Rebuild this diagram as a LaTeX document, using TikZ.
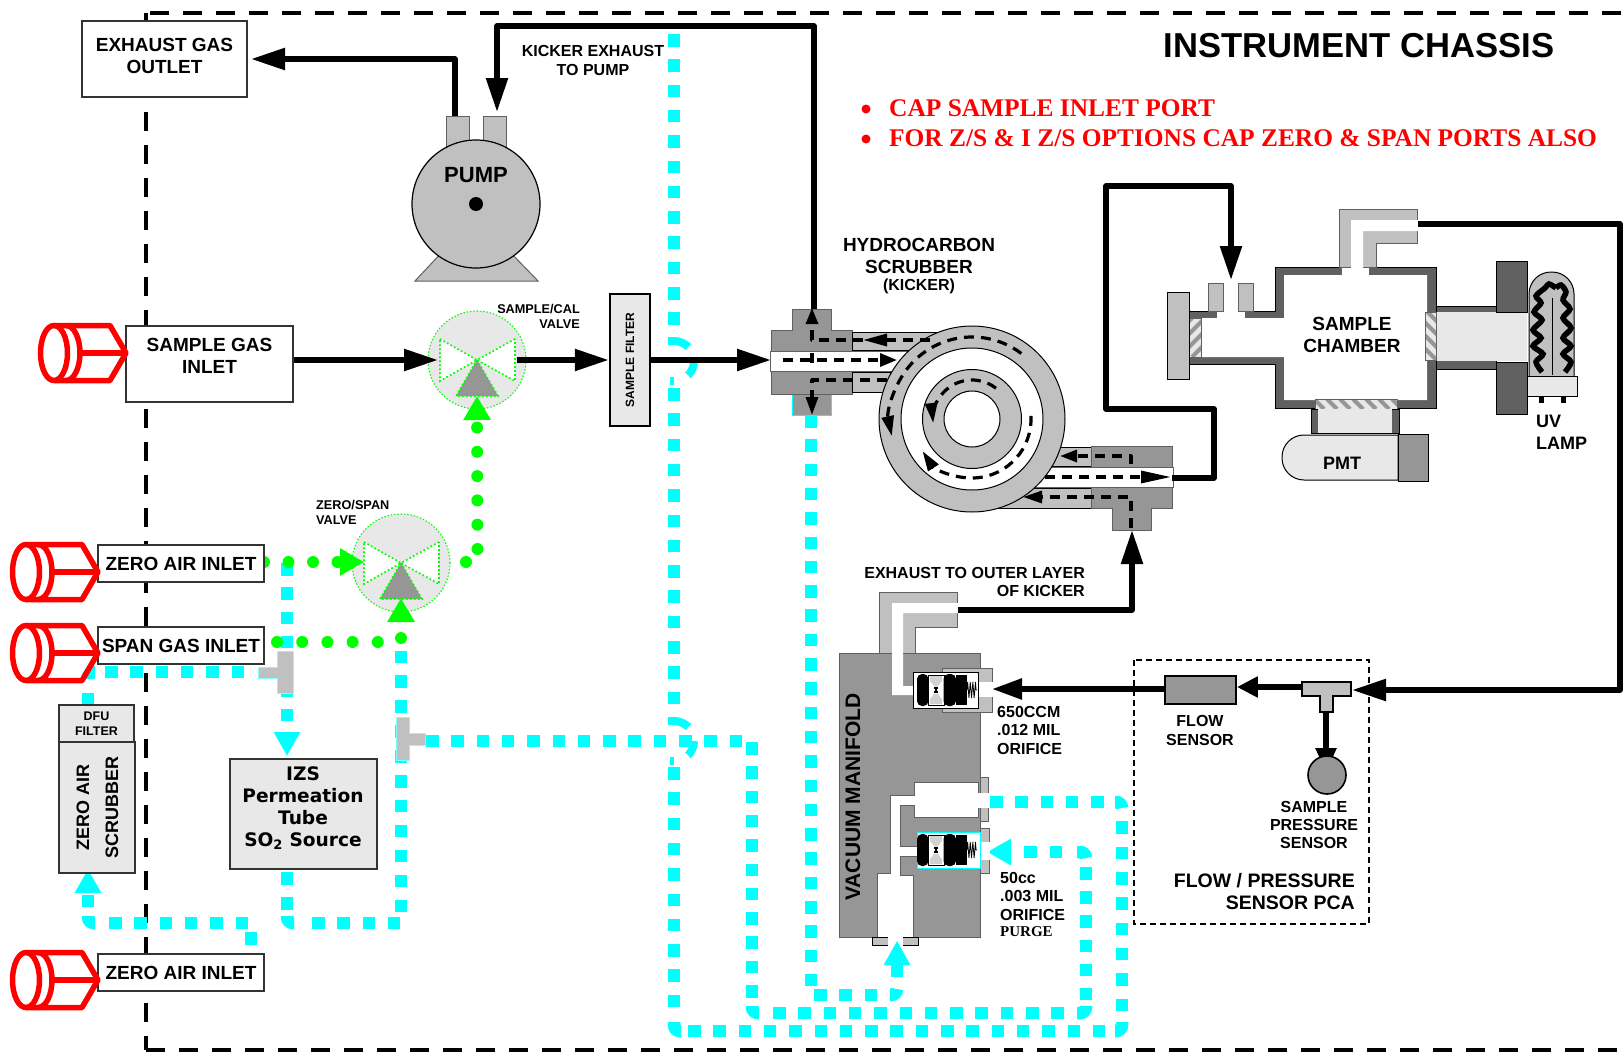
\documentclass[tikz,border=0pt]{standalone}
\usepackage{fontspec}
\setmainfont{Liberation Sans}
\newfontfamily\timesfam{Liberation Serif}
\newfontfamily\widefam{DejaVu Sans}
\usetikzlibrary{arrows.meta, positioning, calc, decorations.pathmorphing}
\definecolor{pipegray}{HTML}{C0C0C0}
\definecolor{blockgray}{HTML}{969696}
\definecolor{wallgray}{HTML}{606060}
\definecolor{panelgray}{HTML}{E8E8E8}
\definecolor{zeroflow}{HTML}{00FFFF}
\definecolor{spanflow}{HTML}{00FF00}
\definecolor{capred}{HTML}{FF0000}

\tikzset{
  biglabel/.style={font=\bfseries\fontsize{19}{22}\selectfont, align=center, inner sep=0pt, yshift=-1pt},
  midlabel/.style={font=\bfseries\fontsize{16}{18.5}\selectfont, align=center, inner sep=0pt},
  smalllabel/.style={font=\bfseries\fontsize{12.7}{15}\selectfont, align=center, inner sep=0pt},
  redlabel/.style={font=\timesfam\bfseries\fontsize{25.4}{27}\selectfont, text=capred, inner sep=0pt},
  reddot/.style={circle, fill=capred, minimum size=9pt, inner sep=0pt},
  gasbox/.style={draw=black!80, line width=1.3pt, fill=white, inner sep=0pt},
  panelbox/.style={draw=black!80, line width=1.3pt, fill=panelgray, inner sep=0pt},
  chassis/.style={line width=4.7pt, dash pattern=on 19pt off 14pt},
  blackflow/.style={line width=5.5pt, line join=round, -{Triangle[length=34pt, width=21pt]}},
  kickdash/.style={line width=3.2pt, dash pattern=on 10pt off 7pt, line join=round},
  kicktip/.style={-{Triangle[length=20pt, width=12pt]}},
  cyanflow/.style={zeroflow, line width=12.5pt, dash pattern=on 12.5pt off 12.8pt},
  cyanclose/.style={zeroflow, line width=12.5pt, dash pattern=on 12.5pt off 11.8pt},
  cyantip/.style={-{Triangle[length=24pt, width=25pt]}},
  cyanbend/.style={zeroflow, line width=12.5pt, rounded corners=6pt},
  cyanhop/.style={zeroflow, line width=8pt, dash pattern=on 21.7pt off 15.7pt on 15.7pt off 15.7pt on 4pt},
  greendots/.style={spanflow, line width=12pt, line cap=round},
  greentip/.style={-{Triangle[length=24pt, width=26pt]}},
  pipefit/.style={draw=wallgray, line width=1pt, fill=pipegray},
  blockfit/.style={draw=wallgray, line width=1pt, fill=blockgray},
  wallfit/.style={draw=black, line width=1pt, fill=wallgray},
  hatchline/.style={blockgray, line width=4pt},
  redcan/.style={capred, line width=5.5pt, line join=round},
  valvedot/.style={draw=spanflow, line width=1.7pt, dash pattern=on 1.7pt off 2.3pt},
}

% Hatched quartz window: x1, y1, x2, y2, slope
\newcommand{\hatchwin}[5]{%
  \begin{scope}
    \clip (#1,#2) rectangle (#3,#4);
    \fill[panelgray] (#1,#2) rectangle (#3,#4);
    \foreach \hx in {-120,-107,...,120}
      \draw[hatchline] ({(#1+#3)/2+\hx},#2) -- ++({#5*(#4-#2)},{#4-#2});
  \end{scope}
  \draw[wallgray, line width=.8pt] (#1,#2) rectangle (#3,#4);
}

% Critical flow orifice: y, outline colour, left, right
\newcommand{\orificeset}[4]{%
  \begin{scope}[shift={(913,#1)}]
    \filldraw[fill=white, draw=#2, line width=.9pt] (#3,-18) rectangle (#4,18);
    \filldraw[fill=white, draw=black, line width=1pt] (15,-15) rectangle (31,15);
    \fill[black, rounded corners=5pt] (4,-16) rectangle (15.5,16);
    \fill[black, rounded corners=5pt] (30.5,-16) rectangle (43,16);
    \fill[panelgray!90!black] (17,-14) -- (29,-14) -- (29,-9) -- (24.5,-3.5) -- (21.5,-3.5) -- (17,-9) -- cycle;
    \fill[panelgray!90!black] (17,14) -- (29,14) -- (29,9) -- (24.5,3.5) -- (21.5,3.5) -- (17,9) -- cycle;
    \draw[black, line width=1.2pt] (21,-2) -- (25,-2) (21,2) -- (25,2) (23,-2) -- (23,2);
    \fill[black] (43,-15) rectangle (54,15);
    \draw[black, line width=.8pt, decorate, decoration={zigzag, segment length=2.6pt, amplitude=8pt}] (54,0) -- (64,0);
  \end{scope}
}

\begin{document}
\begin{tikzpicture}[x=1pt, y=-1pt]

\useasboundingbox (0,0) rectangle (1623,1052);
\fill[white] (0,0) rectangle (1623,1052);

% Chassis outline
\draw[chassis] (146,13) -- (146,1050);
\draw[chassis] (150,13) -- (1623,13);
\draw[chassis, line width=4pt] (146,1050) -- (1623,1050);

\node[font=\bfseries\fontsize{34.6}{38}\selectfont, inner sep=0pt] (chassistitle) at (1359,45.5) {INSTRUMENT CHASSIS};
\node[reddot] (bulleta) at (866,109) {};
\node[reddot] (bulletb) at (866,139) {};
\node[redlabel, anchor=west] (capa) at (889,108) {CAP SAMPLE INLET PORT};
\node[redlabel, anchor=west] (capb) at (889,138) {FOR Z/S \& I Z/S OPTIONS CAP ZERO \& SPAN PORTS ALSO};

% Cyan bypass down past the filter
\coordinate (bytop) at (674,34);
\coordinate (bya) at (674,331);
\coordinate (byb) at (674,388);
\coordinate (byc) at (674,708);
\coordinate (byd) at (674,767);
\coordinate (bye) at (674,1015);
\draw[cyanflow] (bytop) -- (bya);
\draw[cyanflow] (byb) -- (byc);
\draw[cyanflow] (byd) -- (bye);
\draw[cyanhop] (668,341) -- (674,341) arc[start angle=-90, end angle=90, radius=20] -- (670,381);
\draw[cyanhop] (668,721) -- (674,721) arc[start angle=-90, end angle=90, radius=20] -- (670,761);

% Cyan outer loop to the manifold
\coordinate (outla) at (688,1031);
\coordinate (outlb) at (1112,1031);
\coordinate (outlc) at (1122,1011);
\coordinate (outld) at (1122,820);
\coordinate (outle) at (990,802);
\coordinate (outlf) at (1112,802);
\draw[cyanflow] (outla) -- (outlb);
\draw[cyanflow] (outlc) -- (outld);
\draw[cyanflow] (outle) -- (outlf);

% Cyan inner loop to the purge orifice
\coordinate (purgein) at (987,852);
\coordinate (purgea) at (1062,852);
\coordinate (purgeb) at (1086,867);
\coordinate (purgec) at (1086,1000);
\coordinate (purged) at (773,1013);
\coordinate (purgee) at (1066,1013);
\coordinate (purgef) at (752,742);
\coordinate (purgeg) at (752,1000);
\coordinate (izsa) at (426,741);
\coordinate (izsb) at (743,741);
\draw[cyanflow, cyantip] (purgea) -- (purgein);
\draw[cyanclose, dash pattern=on 12.5pt off 11.7pt] (purgeb) -- (purgec);
\draw[cyanflow] (purged) -- (purgee);
\draw[cyanclose] (purgef) -- (purgeg);
\draw[cyanflow] (izsa) -- (izsb);

% Cyan line from the kicker to the manifold foot
\coordinate (kickout) at (811,415);
\coordinate (kickoutb) at (811,987);
\coordinate (kickoutc) at (814,995);
\coordinate (kickoutd) at (886,995);
\coordinate (footstart) at (897,977);
\coordinate (footin) at (897,941);
\draw[cyanclose] (kickout) -- (kickoutb);
\draw[cyanflow] (kickoutc) -- (kickoutd);
\draw[cyanflow, cyantip] (footstart) -- (footin);

% Cyan lines on the left side
\coordinate (feeda) at (287,563);
\coordinate (feedb) at (287,756);
\coordinate (feedc) at (105,672);
\coordinate (feedd) at (245,672);
\coordinate (dfua) at (88,693);
\coordinate (dfub) at (88,705);
\coordinate (scruba) at (88,907);
\coordinate (scrubb) at (88,869);
\coordinate (scrubc) at (109,923);
\coordinate (scrubd) at (248,923);
\coordinate (scrube) at (251,932);
\coordinate (scrubf) at (251,945);
\coordinate (srca) at (287,872);
\coordinate (srcb) at (287,910);
\coordinate (srcc) at (312,923);
\coordinate (srcd) at (400,923);
\coordinate (srce) at (401,912);
\coordinate (srcf) at (401,647);
\draw[cyanclose, cyantip] (feeda) -- (feedb);
\draw[cyanflow] (feedc) -- (feedd);
\draw[cyanflow] (dfua) -- (dfub);
\draw[cyanflow, cyantip] (scruba) -- (scrubb);
\draw[cyanflow] (scrubc) -- (scrubd);
\draw[cyanflow] (scrube) -- (scrubf);
\draw[cyanflow] (srca) -- (srcb);
\draw[cyanflow] (srcc) -- (srcd);
\draw[cyanflow, dash pattern=on 12.5pt off 12.4pt] (srce) -- (srcf);

% Cyan corners
\foreach \cx/\cy/\ax/\ay/\bx/\by in {88/672/0/7/7/0, 88/923/0/-7/7/0, 287/923/0/-7/7/0,
    674/1031/0/-9/7/0, 1122/1031/0/-9/-7/0, 752/1013/0/-7/7/0, 1086/1013/0/-7/-9/0,
    1086/852/-9/0/0/6, 1122/802/-7/0/0/6, 897/995/-7/0/0/-6}
  \draw[cyanbend] (\cx+\ax,\cy+\ay) -- (\cx,\cy) -- (\cx+\bx,\cy+\by);

% Tee fittings
\fill[pipegray, draw=zeroflow!50, line width=.8pt] (277,651) -- (293,651) -- (293,693) -- (277,693) -- (277,678) -- (258,678) -- (258,667) -- (277,667) -- cycle;
\fill[pipegray, draw=zeroflow!50, line width=.8pt] (396,717) -- (409,717) -- (409,733) -- (425,733) -- (425,745) -- (409,745) -- (409,760) -- (396,760) -- cycle;

% Pump
\node[pipefit, minimum width=23pt, minimum height=34pt, inner sep=0pt] (pumpporta) at (457.5,133.5) {};
\node[pipefit, minimum width=23pt, minimum height=34pt, inner sep=0pt] (pumpportb) at (495,133.5) {};
\filldraw[fill=pipegray, draw=wallgray, line width=1pt] (444,250) -- (415,281) -- (538,281) -- (508,250) -- cycle;
\node[circle, draw=black, line width=1.2pt, fill=pipegray, minimum size=128pt, inner sep=0pt] (pump) at (476,204) {};
\fill[black] (pump.center) circle[radius=7];
\node[font=\bfseries\fontsize{22}{24}\selectfont, inner sep=0pt] (pumplbl) at (476,175) {PUMP};

% Valves
\foreach \vname/\vx/\vy in {calvalve/477/360, spanvalve/401/563} {
  \node[circle, fill=panelgray, draw=spanflow, line width=1.1pt, dash pattern=on 1.5pt off 1.8pt, minimum size=98pt, inner sep=0pt] (\vname) at (\vx,\vy) {};
  \filldraw[valvedot, fill=white] (\vx-37,\vy-21) -- (\vx,\vy) -- (\vx-37,\vy+21) -- cycle;
  \filldraw[valvedot, fill=white] (\vx+38,\vy-21) -- (\vx,\vy) -- (\vx+38,\vy+21) -- cycle;
  \filldraw[valvedot, fill=blockgray] (\vx,\vy) -- (\vx+21,\vy+36) -- (\vx-21,\vy+36) -- cycle;
}
\node[smalllabel, align=right, anchor=east] (callbl) at (580,316.5) {SAMPLE/CAL\\VALVE};
\node[smalllabel, align=left, anchor=west] (spanlbl) at (316,512.5) {ZERO/SPAN\\VALVE};

% Green flows
\coordinate (zeroout) at (264,562);
\coordinate (spanvalvein) at (364,562);
\coordinate (spanvalvefoot) at (401,598);
\coordinate (calfoot) at (477,396);
\coordinate (dotout) at (466,562);
\coordinate (dotriser) at (477.5,549);
\coordinate (dotspan) at (401,638);
\coordinate (dotlast) at (378,642);
\coordinate (dotfirst) at (277,642);
\draw[greendots, dash pattern=on 0pt off 24.5pt, greentip] (zeroout) -- (spanvalvein);
\draw[greendots, dash pattern=on 0pt off 24.3pt, greentip] (dotriser) -- (calfoot);
\draw[greendots, dash pattern=on 0pt off 25.2pt] (dotfirst) -- (dotlast);
\draw[greendots, dash pattern=on 0pt off 100pt, greentip] (dotspan) -- (spanvalvefoot);
\fill[spanflow] (dotout) circle[radius=6];

% Boxes
\node[gasbox, minimum width=165pt, minimum height=76pt] (exhaustout) at (164.5,59) {};
\node[biglabel] (exhaustlbl) at (164.5,54.5) {EXHAUST GAS\\OUTLET};
\node[gasbox, minimum width=167pt, minimum height=76pt] (samplegas) at (209.5,364) {};
\node[biglabel] (samplegaslbl) at (209.5,355) {SAMPLE GAS\\INLET};
\node[gasbox, biglabel, draw=black!80, minimum width=166pt, minimum height=37pt] (zeroair) at (181,562.5) {ZERO AIR INLET};
\node[gasbox, biglabel, draw=black!80, minimum width=166pt, minimum height=37pt] (spangas) at (181,644.5) {SPAN GAS INLET};
\node[gasbox, biglabel, draw=black!80, minimum width=166pt, minimum height=37pt] (zeroairb) at (181,971.5) {ZERO AIR INLET};
\node[panelbox, draw=black!80, minimum width=75pt, minimum height=37pt, font=\bfseries\fontsize{12.5}{14.5}\selectfont, align=center] (dfufilter) at (96.5,723.5) {DFU\\FILTER};
\node[panelbox, minimum width=76pt, minimum height=131pt] (scrubber) at (97,807.5) {};
\node[font=\bfseries\fontsize{18}{29}\selectfont, align=center, inner sep=0pt, rotate=90] (scrubberlbl) at (97.5,807) {ZERO AIR\\SCRUBBER};
\node[panelbox, minimum width=147pt, minimum height=110pt] (izsbox) at (303.5,814) {};
\node[font=\widefam\bfseries\fontsize{18.6}{22}\selectfont, align=center, inner sep=0pt] (izslbl) at (303,808) {IZS\\Permeation\\Tube\\SO\textsubscript{2} Source};
\node[panelbox, draw=black, line width=2.5pt, minimum width=40pt, minimum height=132pt] (filter) at (630,360) {};
\node[font=\bfseries\fontsize{12}{14}\selectfont, inner sep=0pt, rotate=90] (filterlbl) at (630,360) {SAMPLE FILTER};

% Kicker, left block
\coordinate (ringc) at (972,419);
\filldraw[blockfit] (792,309) -- (831,309) -- (831,330) -- (852,330) -- (852,394) -- (771,394) -- (771,330) -- (792,330) -- cycle;
\filldraw[fill=blockgray, draw=zeroflow, line width=1pt] (792,394) rectangle (831,415);
\draw[wallgray, line width=1pt] (771,394) -- (852,394);
\filldraw[fill=pipegray, draw=black, line width=1pt] (852,332) rectangle (955,350);
\filldraw[fill=pipegray, draw=black, line width=1pt] (852,372) rectangle (890,392);
\filldraw[fill=white, draw=wallgray, line width=.8pt] (770,351) rectangle (920,371);

% Kicker, right block
\filldraw[fill=pipegray, draw=black, line width=1pt] (1040,447) rectangle (1091,466);
\filldraw[fill=pipegray, draw=black, line width=1pt] (972,488) rectangle (1091,508);
\filldraw[blockfit] (1091,446) -- (1172,446) -- (1172,508) -- (1151,508) -- (1151,530) -- (1112,530) -- (1112,508) -- (1091,508) -- cycle;
\filldraw[fill=white, draw=wallgray, line width=.8pt] (1030,467) rectangle (1173,487);

% Kicker rings
\filldraw[fill=pipegray, draw=black, line width=1pt] (ringc) circle[radius=93];
\filldraw[fill=white, draw=black, line width=1pt] (ringc) circle[radius=71];
\filldraw[fill=pipegray, draw=black, line width=1pt] (ringc) circle[radius=49.5];
\filldraw[fill=white, draw=black, line width=1pt] (ringc) circle[radius=28];

% Kicker flow marks
\draw[black, kickdash, kicktip] (ringc) ++(-53:82) arc[start angle=-53, end angle=-192, radius=82];
\draw[black, kickdash, kicktip] (ringc) ++(-3:59) arc[start angle=-3, end angle=147, radius=59];
\draw[black, kickdash, kicktip] (ringc) ++(-52:39) arc[start angle=-52, end angle=-186, radius=39];
\draw[black, kickdash, -{Triangle[length=17pt, width=13pt]}] (783,360) -- (897,360);
\draw[black, kickdash, -{Triangle[length=24pt, width=12pt]}] (930,340) -- (863,340);
\draw[black, kickdash, -{Triangle[length=16pt, width=12pt]}] (863,340) -- (812,340) -- (812,308);
\draw[black, kickdash] (812,353) -- (812,367);
\draw[black, kickdash, -{Triangle[length=18pt, width=12pt]}] (887,380) -- (812,380) -- (812,415);
\draw[black, kickdash, -{Triangle[length=30pt, width=12pt]}] (1045,477) -- (1171,477);
\draw[black, kickdash, -{Triangle[length=17pt, width=12pt]}] (1131,464) -- (1131,456) -- (1060,456);
\draw[black, kickdash, -{Triangle[length=19pt, width=12pt]}] (1131,528) -- (1131,497) -- (1023,497);

\node[biglabel] (hclbl) at (919,255) {HYDROCARBON\\SCRUBBER};
\node[midlabel] (kickerlbl) at (919,286.5) {(KICKER)};

% Sample chamber
\filldraw[wallfit] (1189,311) -- (1275,311) -- (1275,267) -- (1436,267) -- (1436,408) -- (1275,408) -- (1275,364) -- (1189,364) -- cycle;
\fill[white] (1201,318) -- (1284,318) -- (1284,275) -- (1427,275) -- (1427,400) -- (1284,400) -- (1284,357) -- (1201,357) -- cycle;
\fill[white] (1217,310) rectangle (1245,319);
\fill[white] (1342,266) rectangle (1369,276);
\hatchwin{1189}{318}{1201}{357}{-1}
\node[pipefit, draw=black, minimum width=22pt, minimum height=87pt, inner sep=0pt] (lightblock) at (1178,335.5) {};
\node[pipefit, minimum width=15pt, minimum height=28pt, inner sep=0pt] (portl) at (1215.5,297) {};
\node[pipefit, minimum width=15pt, minimum height=28pt, inner sep=0pt] (portr) at (1245.5,297) {};
\filldraw[pipefit] (1339,209) -- (1417,209) -- (1417,243) -- (1376,243) -- (1376,267) -- (1339,267) -- cycle;
\fill[white] (1351,220) -- (1418,220) -- (1418,231) -- (1363,231) -- (1363,276) -- (1351,276) -- cycle;
\node[biglabel] (chamberlbl) at (1352,334) {SAMPLE\\CHAMBER};

% PMT side
\hatchwin{1315}{399}{1397}{409}{1}
\node[wallfit, minimum width=88pt, minimum height=24pt, inner sep=0pt] (pmtneck) at (1355,421) {};
\node[fill=panelgray, minimum width=74pt, minimum height=24pt, inner sep=0pt] (pmtinner) at (1355,421) {};
\filldraw[fill=panelgray, draw=black, line width=1pt, rounded corners=22pt] (1398,435) -- (1282,435) -- (1282,480) [sharp corners] -- (1398,480) -- cycle;
\node[blockfit, draw=black, minimum width=30pt, minimum height=47pt, inner sep=0pt] (pmtend) at (1413,457.5) {};
\node[font=\bfseries\fontsize{18}{20}\selectfont, inner sep=0pt] (pmtlbl) at (1342,463) {PMT};

% UV lamp side
\filldraw[wallfit] (1436,306) rectangle (1496,369);
\node[fill=panelgray, minimum width=91pt, minimum height=49pt, inner sep=0pt] (lamptube) at (1481.5,336.5) {};
\filldraw[wallfit] (1496,261) rectangle (1527,312);
\filldraw[wallfit] (1496,362) rectangle (1527,414);
\hatchwin{1425}{312}{1436}{360}{1}
\filldraw[fill=pipegray, draw=black, line width=1pt, rounded corners=22pt] (1529,378) -- (1529,272) -- (1574,272) -- (1574,378);
\draw[black, line width=.8pt] (1552,298) -- (1552,375);
\draw[black, line width=5.5pt, smooth] plot coordinates {(1542,372) (1536,362) (1543,354) (1533,346) (1541,338) (1533,330) (1542,320) (1534,312) (1541,303) (1536,296) (1545,288) (1549,284) (1556,288)};
\draw[black, line width=5.5pt, smooth] plot coordinates {(1565,372) (1571,362) (1563,354) (1571,346) (1563,338) (1571,328) (1563,318) (1570,309) (1563,300) (1566,292) (1561,285) (1556,288)};
\node[fill=panelgray, draw=black, line width=1pt, minimum width=50pt, minimum height=20pt, inner sep=0pt] (lampbase) at (1552,386) {};
\fill[black] (1539,396) rectangle (1544,403);
\fill[black] (1561,396) rectangle (1566,403);
\node[font=\bfseries\fontsize{18}{22}\selectfont, align=left, anchor=west, inner sep=0pt] (uvlbl) at (1536,432) {UV\\LAMP};

% Vacuum manifold
\filldraw[pipefit] (879,592) -- (957,592) -- (957,627) -- (915,627) -- (915,653) -- (879,653) -- cycle;
\node[blockfit, minimum width=141pt, minimum height=284pt, inner sep=0pt] (manifold) at (909.5,795) {};
\node[font=\bfseries\fontsize{21}{23}\selectfont, inner sep=0pt, rotate=90] (manifoldlbl) at (853,797) {VACUUM MANIFOLD};
\filldraw[pipefit] (942,668) rectangle (992,712);
\fill[white] (892,603) -- (958,603) -- (958,613) -- (903,613) -- (903,686) -- (914,686) -- (914,695) -- (892,695) -- cycle;
\orificeset{690}{black}{0}{65}
\fill[white] (979,682) rectangle (993,697);
\filldraw[pipefit] (980,777) rectangle (988,821);
\filldraw[pipefit] (980,828) rectangle (989,873);
\filldraw[fill=white, draw=wallgray, line width=.8pt] (914,782) -- (978,782) -- (978,817) -- (914,817) -- (914,805) -- (900,805) -- (900,846) -- (917,846) -- (917,856) -- (900,856) -- (900,875) -- (913,875) -- (913,937) -- (877,937) -- (877,873) -- (890,873) -- (890,795) -- (914,795) -- cycle;
\fill[white] (975,793) rectangle (990,808);
\fill[white] (980,842) rectangle (990,860);
\orificeset{850}{zeroflow}{4}{67}
\filldraw[fill=pipegray, draw=black, line width=1pt] (872,937) rectangle (918,945);
\fill[white] (888,936) rectangle (903,946);
\draw[zeroflow, cyantip, line width=1pt] (897,965.5) -- (footin);

\node[midlabel, align=left, anchor=west] (orificea) at (997,730) {650CCM\\.012 MIL\\ORIFICE};
\node[midlabel, align=left, anchor=west] (orificeb) at (1000,896) {50cc\\.003 MIL\\ORIFICE};
\node[font=\timesfam\bfseries\fontsize{15}{17}\selectfont, inner sep=0pt, anchor=west] (purgelbl) at (1000,932) {PURGE};

% Flow / pressure sensor board
\draw[black, line width=1.5pt, dash pattern=on 6pt off 4pt] (1134,660) rectangle (1369,924);
\node[blockfit, draw=black, line width=1.8pt, minimum width=71pt, minimum height=28pt, inner sep=0pt] (flowsensor) at (1200.5,690) {};
\filldraw[pipefit, draw=black, line width=1.2pt] (1302,682) -- (1351,682) -- (1351,696) -- (1333,696) -- (1333,712) -- (1320,712) -- (1320,696) -- (1302,696) -- cycle;
\coordinate (teeleft) at (1302,687);
\coordinate (teeright) at (1352,690);
\coordinate (teefoot) at (1326,712);
\coordinate (sensorin) at (1326,772);
\node[midlabel] (flowlbl) at (1200,730.5) {FLOW\\SENSOR};
\node[midlabel, font=\bfseries\fontsize{16}{18}\selectfont] (presslbl) at (1314,825) {SAMPLE\\PRESSURE\\SENSOR};
\node[biglabel, font=\bfseries\fontsize{19.5}{22}\selectfont, align=right, anchor=east] (pcalbl) at (1355,891) {FLOW / PRESSURE\\SENSOR PCA};

% Black sample line
\coordinate (pumpout) at (455,116);
\coordinate (pumpbend) at (455,59);
\coordinate (exhaustin) at (251,59);
\coordinate (kicktop) at (814,309);
\coordinate (kickbend) at (814,26);
\coordinate (pumpbendb) at (497,26);
\coordinate (pumpin) at (497,112);
\coordinate (calin) at (438,360);
\coordinate (calout) at (517,360);
\coordinate (kickin) at (771,360);
\coordinate (kickexit) at (1172,478);
\coordinate (bendz) at (1214,478);
\coordinate (bendy) at (1214,409);
\coordinate (bendx) at (1106,409);
\coordinate (bendw) at (1106,186);
\coordinate (bendv) at (1231,186);
\coordinate (chamberin) at (1231,280);
\coordinate (chamberout) at (1418,224);
\coordinate (boardcornera) at (1620,224);
\coordinate (boardcornerb) at (1620,690);
\coordinate (manifoldout) at (958,610);
\coordinate (outerbend) at (1132,610);
\coordinate (outerin) at (1132,530);
\coordinate (orificein) at (992,689);
\draw[blackflow] (pumpout) -- (pumpbend) -- (exhaustin);
\draw[blackflow] (kicktop) -- (kickbend) -- (pumpbendb) -- (pumpin);
\draw[blackflow] (samplegas.east |- calin) -- (calin);
\draw[blackflow] (calout) -- (filter.west |- calout);
\draw[blackflow] (filter.east |- kickin) -- (kickin);
\draw[blackflow] (kickexit) -- (bendz) -- (bendy) -- (bendx) -- (bendw) -- (bendv) -- (chamberin);
\draw[blackflow] (chamberout) -- (boardcornera) -- (boardcornerb) -- (teeright);
\draw[blackflow, -{Triangle[length=21pt, width=20pt]}] (teeleft) -- (flowsensor.east |- teeleft);
\draw[blackflow, -{Triangle[length=24pt, width=20pt]}] (teefoot) -- (sensorin);
\draw[blackflow] (manifoldout) -- (outerbend) -- (outerin);
\draw[blackflow, -{Triangle[length=30pt, width=20pt]}] (flowsensor.west |- orificein) -- (orificein);
\node[circle, blockfit, draw=black, line width=1.6pt, minimum size=38pt, inner sep=0pt] (pressuresensor) at (1327,775) {};

\node[midlabel, font=\bfseries\fontsize{16}{19}\selectfont] (kickexlbl) at (593,60.5) {KICKER EXHAUST\\TO PUMP};
\node[midlabel, font=\bfseries\fontsize{16}{18}\selectfont, align=right, anchor=east] (outerlbl) at (1085,581.5) {EXHAUST TO OUTER LAYER\\OF KICKER};

% Red caps on the inlets
\foreach \ox/\oy in {-2/353, -30/572, -30/653, -30/980} {
  \begin{scope}[shift={(\ox,\oy)}]
    \draw[redcan, fill=white] (56,0) circle[x radius=13.5, y radius=27.5];
    \draw[redcan] (56,-27.5) -- (112,-27.5) -- (128,0) -- (112,27.5) -- (56,27.5);
    \draw[redcan] (68,-27.5) arc[start angle=-90, end angle=90, x radius=14, y radius=27.5];
    \draw[redcan] (82,0) -- (128,0);
  \end{scope}
}

\end{tikzpicture}
\end{document}
